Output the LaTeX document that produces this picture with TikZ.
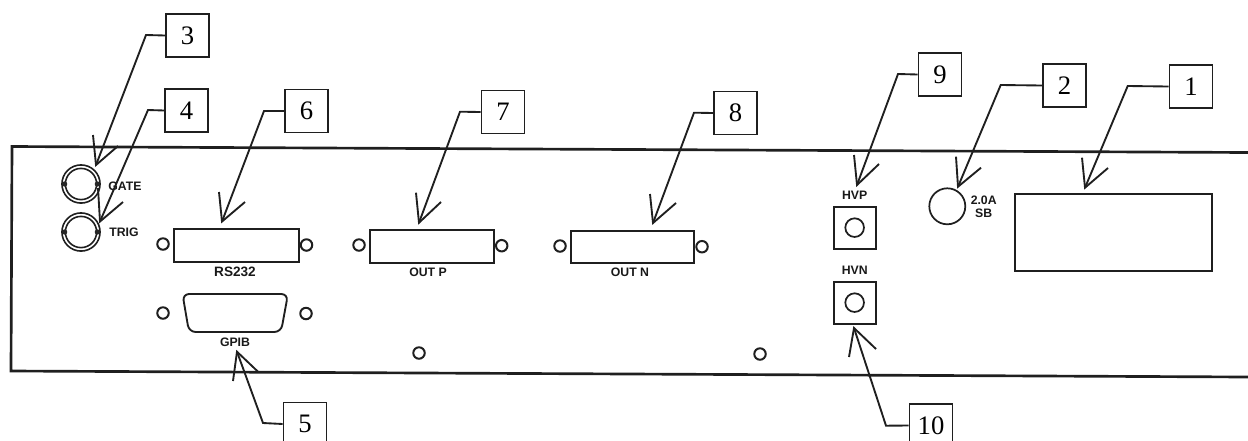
\documentclass[tikz,border=0pt]{standalone}
\usepackage{fontspec}
\setmainfont{Liberation Serif}
\newfontfamily\lblfont{Liberation Sans}[BoldFont={Liberation Sans Bold}]
\tikzset{
  inkcol/.style={draw=black!88},
  panelline/.style={inkcol,line width=2pt},
  callout/.style={inkcol,line width=1.4pt,fill=white,minimum size=32.2pt,inner sep=0pt,font=\fontsize{20}{20}\selectfont},
  leaderline/.style={inkcol,line width=1.4pt,line join=miter},
  hole/.style={circle,inkcol,line width=1.5pt,minimum size=8.6pt,inner sep=0pt},
  lbl/.style={inner sep=0pt,font=\lblfont\bfseries\fontsize{9.2}{10.5}\selectfont,text=black!90,align=center},
  part/.style={rectangle,inkcol,line width=1.4pt,inner sep=0pt,anchor=north west},
}
\newcommand{\leaderto}[6]{% node, elbow, tip, barb a, barb b, name
  \coordinate (#6e) at #2; \coordinate (#6t) at #3; \coordinate (#6a) at #4; \coordinate (#6b) at #5;
  \draw[leaderline] (#1.west) -- (#6e) -- (#6t);
  \draw[leaderline] (#6a) -- (#6t) -- (#6b);
}
\begin{document}
\begin{tikzpicture}[x=0.75pt,y=-0.75pt]
\useasboundingbox (0,0) rectangle (1248,440);
\clip (0,0) rectangle (1248,440);
% panel
\draw[panelline] (1248,152.5) -- (12,146.5) -- (11,371) -- (1248,377);
% callouts
\node[callout] (n3) at (187.5,35.5) {3};
\node[callout] (n4) at (186.5,110.5) {4};
\node[callout] (n6) at (306.5,111) {6};
\node[callout] (n7) at (503,112) {7};
\node[callout] (n8) at (735.5,113) {8};
\node[callout] (n9) at (940,74.5) {9};
\node[callout] (n2) at (1064.5,85.5) {2};
\node[callout] (n1) at (1191,86.5) {1};
\node[callout] (n5) at (305,424) {5};
\node[callout] (n10) at (931,425.5) {10};
% BNC connectors
\foreach \nm/\y in {gate/184,trig/232}{
  \node[circle,inkcol,line width=1.2pt,minimum size=28.6pt,inner sep=0pt] (\nm o) at (81,\y) {};
  \node[circle,inkcol,line width=1.2pt,minimum size=23.4pt,inner sep=0pt] (\nm i) at (81,\y) {};
  \fill[black!85] (\nm i.west) circle (2pt) (\nm i.east) circle (2pt);
}
\node[lbl] (lgate) at (125,186) {GATE};
\node[lbl] (ltrig) at (124,232) {TRIG};
% RS232
\node[part,minimum width=93.7pt,minimum height=24.7pt] (rs) at (173,228) {};
\node[hole] (rs1) at (163,244) {};
\node[hole] (rs2) at (306.5,245) {};
\node[lbl,font=\lblfont\bfseries\fontsize{10.2}{11}\selectfont] (lrs) at (235,272) {RS232};
% OUT P
\node[part,minimum width=93pt,minimum height=24.7pt] (op) at (369,229) {};
\node[hole] (op1) at (359,245) {};
\node[hole] (op2) at (501.7,245.7) {};
\node[lbl] (lop) at (428,272) {OUT P};
% OUT N
\node[part,minimum width=92.2pt,minimum height=24pt] (on) at (570,230) {};
\node[hole] (on1) at (560,246) {};
\node[hole] (on2) at (702,246.7) {};
\node[lbl] (lon) at (630,272.5) {OUT N};
% GPIB
\draw[inkcol,line width=1.4pt,rounded corners=5pt] (182.5,294) -- (288,294) -- (281,332) -- (189,332) -- cycle;
\node[hole] (gp1) at (163,313) {};
\node[hole] (gp2) at (306,313.5) {};
\node[lbl] (lgp) at (235,342) {GPIB};
% free holes
\node[hole] (h1) at (419,353) {};
\node[hole] (h2) at (760,354) {};
% HV
\node[lbl] (lhvp) at (854.7,195) {HVP};
\node[part,minimum size=31.5pt] (hvp) at (832.7,205.7) {};
\node[circle,inkcol,line width=1.3pt,minimum size=14pt,inner sep=0pt] (hvpc) at (hvp.center) {};
\node[lbl] (lhvn) at (854.7,270) {HVN};
\node[part,minimum size=31.5pt] (hvn) at (832.7,280.7) {};
\node[circle,inkcol,line width=1.3pt,minimum size=14pt,inner sep=0pt] (hvnc) at (hvn.center) {};
% fuse
\node[circle,inkcol,line width=1.3pt,minimum size=27pt,inner sep=0pt] (fuse) at (947.3,206.3) {};
\node[lbl] (lf1) at (983.7,200) {2.0A};
\node[lbl] (lf2) at (983.7,213) {SB};
% mains
\node[part,minimum width=147.3pt,minimum height=57.5pt] (mains) at (1014.3,193.3) {};
% leaders
\leaderto{n3}{(146,35)}{(96,165)}{(93,135)}{(118,146)}{la}
\leaderto{n4}{(148,110)}{(100,221.5)}{(98,188)}{(123,202)}{lb}
\leaderto{n6}{(264,111)}{(222,221.5)}{(219,192)}{(245,202)}{lc}
\leaderto{n7}{(460,111.7)}{(419,222.7)}{(416,192.7)}{(441,202)}{ld}
\leaderto{n8}{(694,112.7)}{(653,223)}{(650,194)}{(676,203)}{le}
\leaderto{n9}{(898,74)}{(857,185)}{(854,155)}{(879,164)}{lf}
\leaderto{n2}{(1000.7,85)}{(958,186.7)}{(956,156.7)}{(981,167.7)}{lg}
\leaderto{n1}{(1127.7,86)}{(1085,187.7)}{(1082,157.7)}{(1108,168)}{lh}
\leaderto{n10}{(886,425.7)}{(854,328)}{(849,357)}{(876,349)}{li}
\leaderto{n5}{(263,423)}{(237,351.7)}{(233,381)}{(258,371.7)}{lj}
\end{tikzpicture}
\end{document}
